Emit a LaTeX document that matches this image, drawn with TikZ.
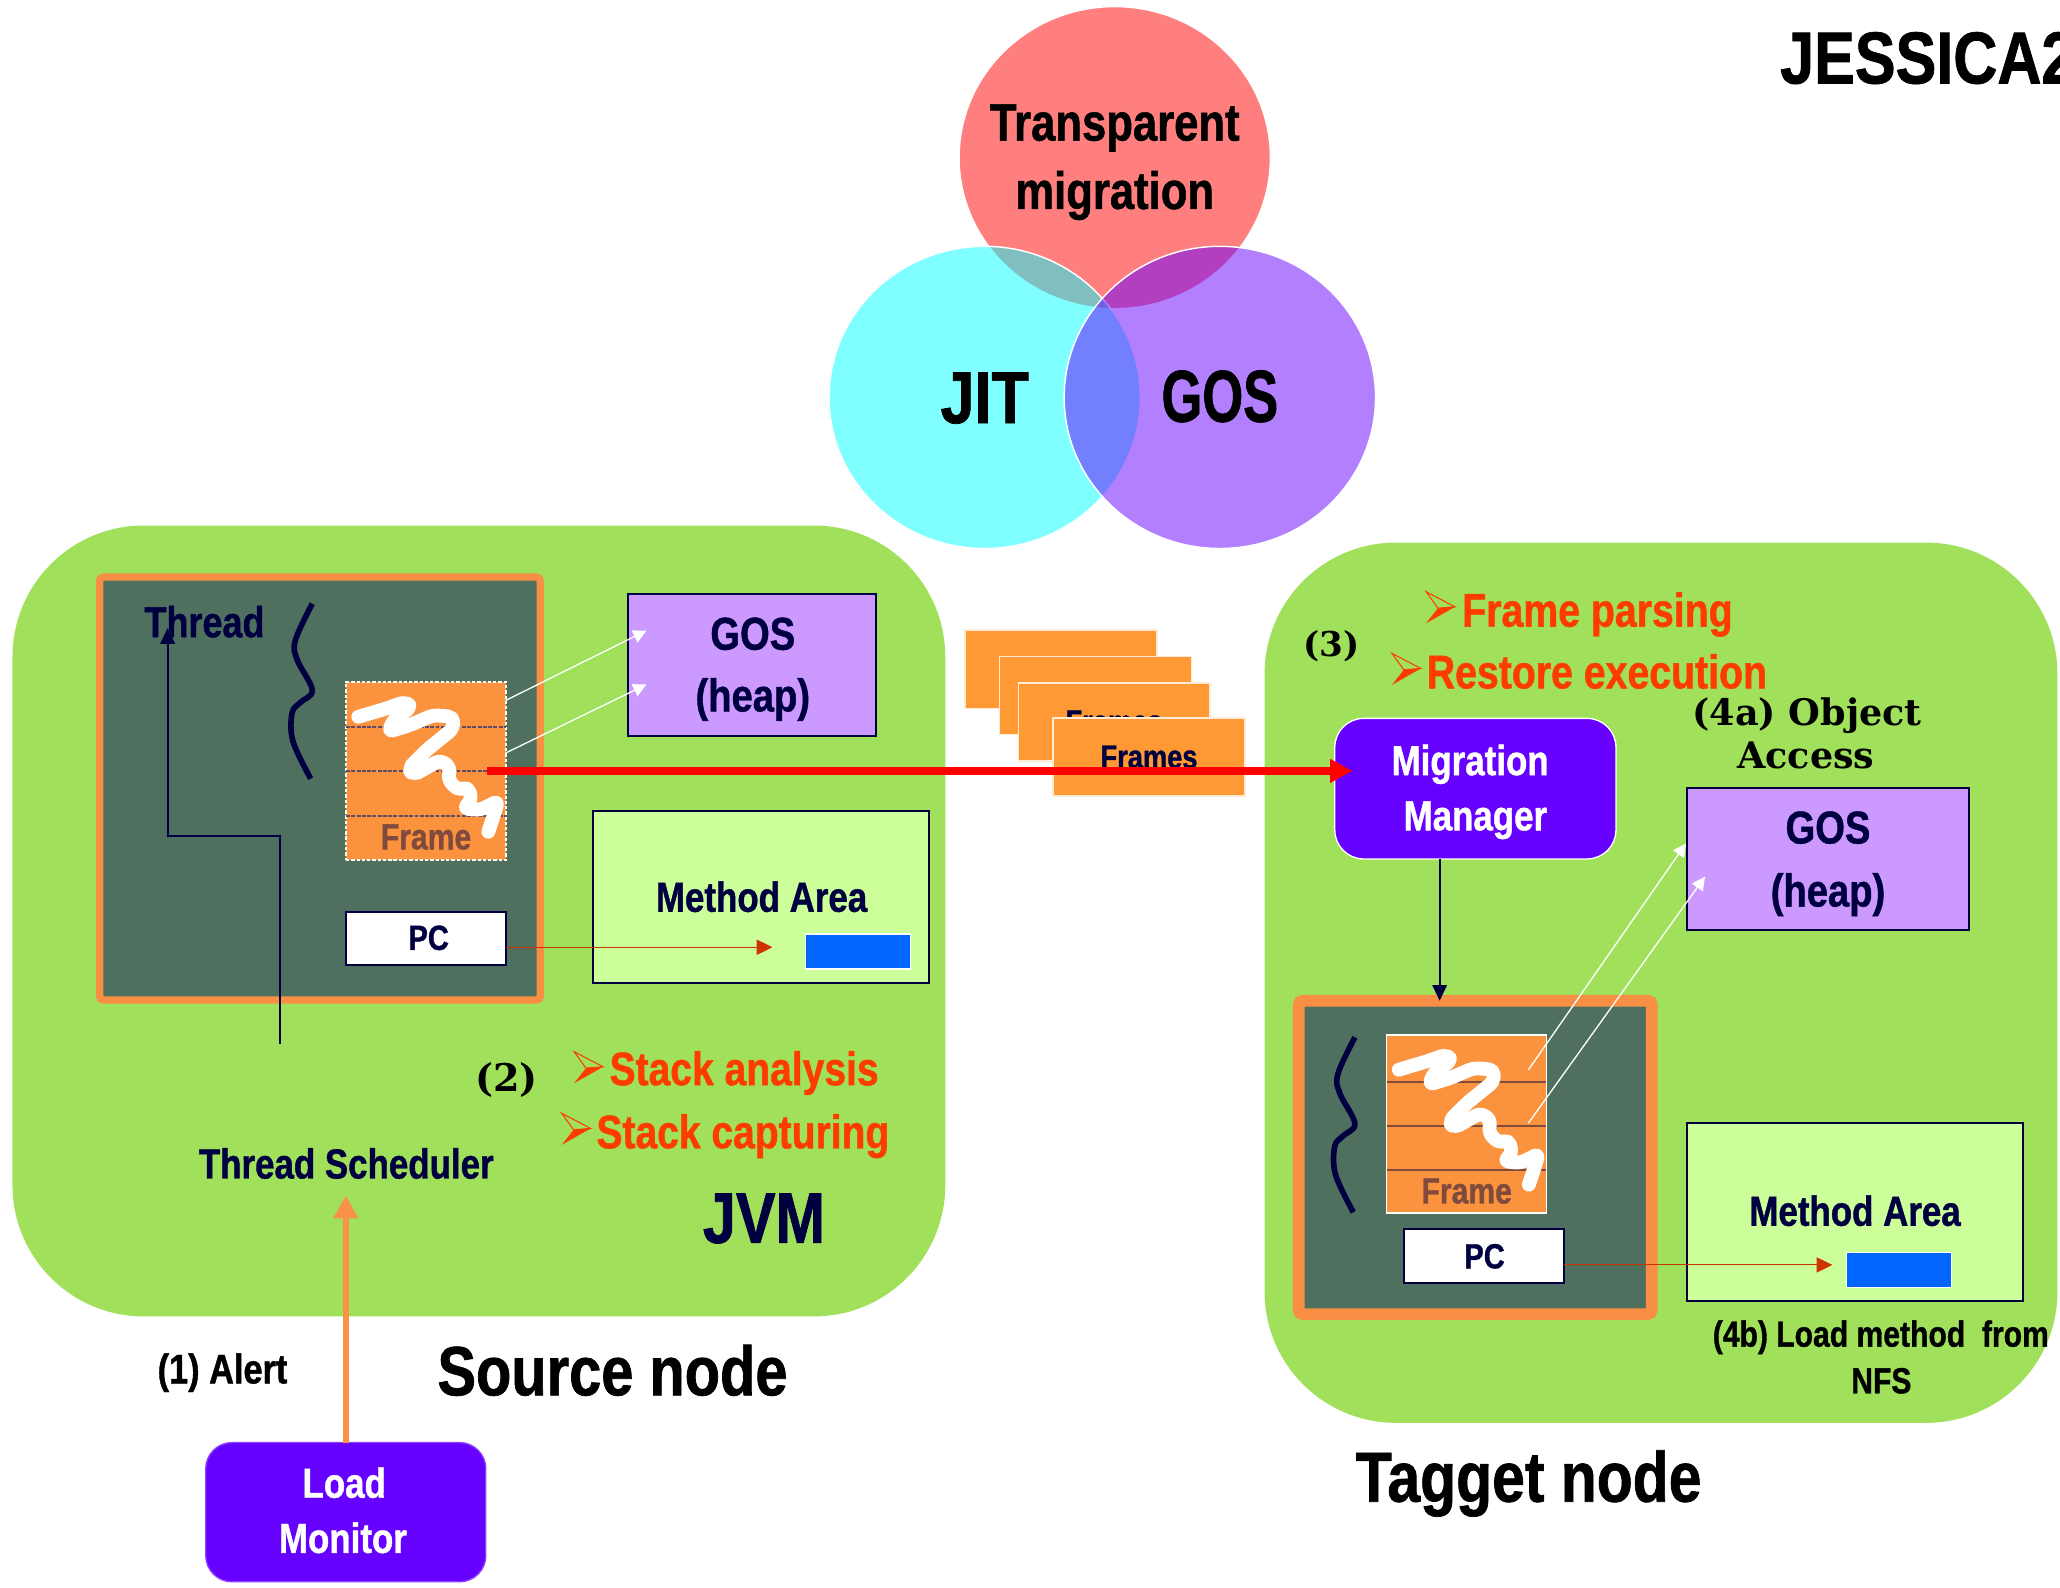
\documentclass[tikz,border=0pt]{standalone}
\usepackage{fontspec}
\usetikzlibrary{arrows.meta,calc}
\newfontfamily\narrowsans{Liberation Sans}[FakeStretch=0.83,FakeBold=1]
\newfontfamily\boldserif{DejaVu Serif}
\newcommand\setfs[1]{\fontsize{#1}{#1}\selectfont}

\definecolor{jnavy}{RGB}{0,0,64}
\definecolor{jvmgreen}{RGB}{160,224,90}
\definecolor{stackgreen}{RGB}{79,112,95}
\definecolor{stackorange}{RGB}{248,143,68}
\definecolor{frameorange}{RGB}{251,146,62}
\definecolor{framesorange}{RGB}{255,153,51}
\definecolor{framebrown}{RGB}{128,75,60}
\definecolor{slotline}{RGB}{95,75,105}
\definecolor{heaplilac}{RGB}{204,153,255}
\definecolor{methodlime}{RGB}{204,255,153}
\definecolor{methodblue}{RGB}{0,102,255}
\definecolor{mgrviolet}{RGB}{102,0,255}
\definecolor{stepred}{RGB}{255,60,0}
\definecolor{pcred}{RGB}{204,51,0}
\definecolor{alertorange}{RGB}{250,145,72}
\definecolor{migred}{RGB}{255,0,0}
\definecolor{jitcyan}{RGB}{0,255,255}

\begin{document}
\begin{tikzpicture}[x=1pt,y=-1pt,
  lbl/.style={inner sep=0pt, outer sep=0pt, font=\narrowsans\bfseries\setfs{#1}},
  serifl/.style={inner sep=0pt, outer sep=0pt, font=\boldserif\bfseries\setfs{#1}},
  region/.style={fill=jvmgreen, rounded corners=100pt, inner sep=0pt, outer sep=0pt},
  stackbox/.style={draw=stackorange, fill=stackgreen, rounded corners=3pt, inner sep=0pt, outer sep=0pt},
  framebox/.style={fill=frameorange, draw=white, line width=1.2pt, inner sep=0pt, outer sep=0pt,
    minimum width=121.5pt, minimum height=135.4pt},
  pcbox/.style={fill=white, draw=jnavy, line width=1.5pt, minimum width=121.5pt,
    minimum height=40.8pt, inner sep=0pt, outer sep=0pt},
  heapbox/.style={fill=heaplilac, draw=jnavy, line width=1.5pt, inner sep=0pt, outer sep=0pt},
  methodbox/.style={fill=methodlime, draw=jnavy, line width=1.5pt, inner sep=0pt, outer sep=0pt},
  methodslot/.style={fill=methodblue, draw=white, line width=1pt, minimum width=80pt,
    minimum height=26.6pt, inner sep=0pt, outer sep=0pt},
  managerbox/.style={fill=mgrviolet, draw=white, line width=1pt, rounded corners=22pt,
    minimum width=214pt, minimum height=107pt, inner sep=0pt, outer sep=0pt},
  framecard/.style={fill=framesorange, draw=white!80!framesorange, line width=1pt,
    minimum width=146pt, minimum height=59.5pt, inner sep=0pt, outer sep=0pt,
    font=\narrowsans\bfseries\setfs{25}, text=jnavy},
  venn/.style={draw=white, line width=1.1pt, fill opacity=0.5},
  slotdash/.style={draw=slotline, line width=1.5pt, dash pattern=on 3pt off 1pt},
  slotsolid/.style={draw=framebrown, line width=1.5pt},
  navyarrow/.style={draw=jnavy, line width=1.5pt, -{Triangle[length=12pt,width=11pt]}},
  heaparrow/.style={draw=white, line width=1pt, -{Triangle[length=10pt,width=10pt]}},
  pcarrow/.style={draw=pcred, line width=0.8pt, -{Triangle[length=12pt,width=11.5pt]}},
  migarrow/.style={draw=migred, line width=5.6pt, -{Triangle[length=17pt,width=17pt]}},
  alertarrow/.style={draw=alertorange, line width=4.9pt, -{Triangle[length=17.5pt,width=18pt]}},
  stackbrace/.pic={\draw[jnavy, line width=4.3pt] plot[smooth, tension=0.6] coordinates
    {(16.7,0.5) (3.8,28.4) (5.2,43.2) (16.7,66.2) (7.7,75.6) (1.3,83.7) (2,105.3) (15.5,133.7)};},
  scribble/.pic={\draw[white, line width=10.5pt, line cap=round, line join=round, rounded corners=4pt]
    (9.2,26.5) -- (30.8,20.1) -- (44.8,15.1) -- (49.8,18.9) -- (35.9,29) -- (32.1,37.9)
    -- (48.6,32.8) -- (66.3,25.2) -- (81.5,26.5) -- (81.5,35.4) -- (61.3,51.8) -- (47.3,65.8)
    -- (51.1,70.9) -- (71.4,59.5) -- (79,64.5) -- (77.7,74.7) -- (85.4,82.3) -- (93,79.8)
    -- (95.5,89.9) -- (89.2,96.2) -- (101.8,97.5) -- (115.8,90.4) -- (112,102.6) -- (108.2,114);},
  bullet/.pic={\fill[stepred] (0,24) -- (22,11.5) -- (9,12.5) -- cycle;
    \draw[stepred, line width=0.8pt] (0,0) -- (22,11.5) -- (9,12.5) -- cycle;}
]
\useasboundingbox (0,0) rectangle (1568,1208);
\fill[white] (0,0) rectangle (1568,1208);

% ---- three overlapping circles ----
\path[venn, fill=migred] (848.5,120) ellipse [x radius=118.5pt, y radius=115pt];
\path[venn, fill=jitcyan] (749.5,302.5) ellipse [x radius=118.5pt, y radius=115pt];
\path[venn, fill=mgrviolet] (928.5,302.5) ellipse [x radius=118.5pt, y radius=115pt];
\node[lbl=40, anchor=base] (tmA) at (848.5,107) {Transparent};
\node[lbl=40, anchor=base] (tmB) at (848.5,159) {migration};
\node[lbl=56, anchor=base] (jit) at (749.5,322) {JIT};
\node[lbl=56, anchor=base] (gosV) at (928.5,321) {\scalebox{0.86}[1]{GOS}};

\node[lbl=56, anchor=base west] (title) at (1355,63.5) {JESSICA2};

% ---- the two JVMs ----
\node[region, minimum width=710pt, minimum height=602pt] (srcJVM) at (364.5,701) {};
\node[region, minimum width=603.5pt, minimum height=670pt] (tgtJVM) at (1264.3,748) {};

% ---- source thread stack ----
\node[stackbox, line width=5.6pt, minimum width=335.4pt, minimum height=322pt] (threadL) at (243.5,600.2) {};
\node[framebox, dash pattern=on 2.5pt off 1.5pt] (frameL) at (324.25,586.8) {};
\foreach \d in {34,68,102}
  \draw[slotdash] ([yshift=-\d pt]frameL.north west) -- ([yshift=-\d pt]frameL.north east);
\node[lbl=27.6, anchor=base, text=framebrown] (frameLtxt) at (324.3,646.5) {Frame};
\pic at (frameL.north west) {scribble};
\pic at (221,459) {stackbrace};
\node[pcbox] (pcL) at (324.25,714.25) {};
\node[lbl=26.6, anchor=base, text=jnavy] (pcLtxt) at (326.3,723) {PC};

% ---- target thread stack ----
\node[stackbox, line width=8.9pt, minimum width=268.7pt, minimum height=238.5pt] (threadR) at (1122.9,881) {};
\node[framebox] (frameR) at (1116.25,855.4) {};
\foreach \d in {35.5,69,102.7}
  \draw[slotsolid] ([yshift=-\d pt]frameR.north west) -- ([yshift=-\d pt]frameR.north east);
\node[lbl=27.6, anchor=base, text=framebrown] (frameRtxt) at (1116.4,916) {Frame};
\pic at (frameR.north west) {scribble};
\pic at (1014.6,789) {stackbrace};
\node[pcbox] (pcR) at (1129.6,956) {};
\node[lbl=26.6, anchor=base, text=jnavy] (pcRtxt) at (1130,965.4) {PC};

% ---- heaps and method areas ----
\node[heapbox, minimum width=189pt, minimum height=108pt] (gosL) at (572.5,506) {};
\node[lbl=35, anchor=base, text=jnavy] (gosLa) at (573,494.5) {GOS};
\node[lbl=35, anchor=base, text=jnavy] (gosLb) at (573,541.5) {(heap)};
\node[heapbox, minimum width=214.5pt, minimum height=108.2pt] (gosR) at (1391.25,653.9) {};
\node[lbl=35, anchor=base, text=jnavy] (gosRa) at (1391.4,642) {GOS};
\node[lbl=35, anchor=base, text=jnavy] (gosRb) at (1391.4,690) {(heap)};

\node[methodbox, minimum width=256pt, minimum height=131pt] (maL) at (579,682.5) {};
\node[lbl=32, anchor=base, text=jnavy] (maLtxt) at (579.7,694) {Method Area};
\node[methodslot] (blueL) at (653,724.3) {};
\node[methodbox, minimum width=256.2pt, minimum height=135pt] (maR) at (1411.9,922.5) {};
\node[lbl=32, anchor=base, text=jnavy] (maRtxt) at (1412,933) {Method Area};
\node[methodslot] (blueR) at (1445.25,966.75) {};

% ---- captured frames in transit ----
\node[framecard] (card1) at (807.6,509.3) {Frames};
\node[framecard] (card2) at (834,529.5) {Frames};
\node[framecard] (card3) at (848,549.5) {Frames};
\node[framecard] (card4) at (874.6,576.2) {Frames};

% ---- managers ----
\node[managerbox] (mm) at (1123,600.3) {};
\node[lbl=32, anchor=base, text=white] (mmA) at (1119,590) {Migration};
\node[lbl=32, anchor=base, text=white] (mmB) at (1123,632) {Manager};
\node[managerbox, draw=mgrviolet!75!white, minimum width=213.2pt, minimum height=106pt,
  rounded corners=20pt] (lm) at (263.2,1151) {};
\node[lbl=32, anchor=base, text=white] (lmA) at (262,1140) {Load};
\node[lbl=32, anchor=base, text=white] (lmB) at (261,1182) {Monitor};

% ---- labels ----
\node[lbl=33, anchor=base west, text=jnavy] (threadLbl) at (110,485) {Thread};
\node[lbl=32, anchor=base west, text=jnavy] (tsLbl) at (151.4,897) {Thread Scheduler};
\node[lbl=54.5, anchor=base west, text=jnavy] (jvmLbl) at (535,946) {JVM};
\node[lbl=31.5, anchor=base west] (alertLbl) at (120,1053) {(1) Alert};
\node[lbl=53, anchor=base west] (srcLbl) at (333,1062) {Source node};
\node[lbl=54, anchor=base west] (tgtLbl) at (1032,1143) {Tagget node};

\node[serifl=29, anchor=base west] (step2) at (361.6,831) {(2)};
\pic at (437,800.5) {bullet};
\node[lbl=35.8, anchor=base west, text=stepred] (step2a) at (464,826) {Stack analysis};
\pic at (427.6,847.4) {bullet};
\node[lbl=35.8, anchor=base west, text=stepred] (step2b) at (454,874) {Stack capturing};

\node[serifl=26, anchor=base west] (step3) at (992,500) {(3)};
\pic at (1085.5,450.4) {bullet};
\node[lbl=36, anchor=base west, text=stepred] (step3a) at (1113,477) {Frame parsing};
\pic at (1059.5,497.3) {bullet};
\node[lbl=36, anchor=base west, text=stepred] (step3b) at (1086,524) {Restore execution};

\node[serifl=27.8, anchor=base] (step4aA) at (1375.5,552) {(4a) Object};
\node[serifl=27.8, anchor=base] (step4aB) at (1374.5,585) {Access};
\node[lbl=27.6, anchor=base] (step4bA) at (1431.6,1025) {(4b) Load method~ from};
\node[lbl=27.6, anchor=base] (step4bB) at (1432,1060.5) {NFS};

% ---- connectors ----
\draw[heaparrow] ([yshift=-14pt]frameL.north east) -- ([xshift=14pt,yshift=-28pt]gosL.north west);
\draw[heaparrow] ([yshift=-54pt]frameL.north east) -- ([xshift=14pt,yshift=-69pt]gosL.north west);
\draw[heaparrow] ([xshift=-13.7pt,yshift=-26.7pt]frameR.north east) -- ([xshift=-0.7pt,yshift=-42.2pt]gosR.north west);
\draw[heaparrow] ([xshift=-13.7pt,yshift=-67.2pt]frameR.north east) -- ([xshift=13.8pt,yshift=-67.5pt]gosR.north west);

\draw[pcarrow] ([yshift=-6.75pt]pcL.east) -- ([xshift=-25pt,yshift=3.3pt]blueL.west);
\draw[pcarrow] ([yshift=-6.8pt]pcR.east) -- ([xshift=-10.5pt,yshift=3.95pt]blueR.west);

\coordinate (schedStub) at (213,795);
\coordinate (threadTip) at (127.6,478);
\draw[navyarrow] (schedStub) |- ($(threadTip)+(0,158.5)$) -- (threadTip);

\coordinate (mmOut) at ($(mm.south)+(-27.2,0)$);
\draw[navyarrow] (mmOut) -- (mmOut |- threadR.north);

\draw[migarrow, shorten <=-14pt, shorten >=-13.5pt] (frameL.east) -- (frameL.east -| mm.west);

\draw[alertarrow, shorten >=12.6pt] (lm.north) -- (lm.north |- tsLbl.south);
\end{tikzpicture}
\end{document}
